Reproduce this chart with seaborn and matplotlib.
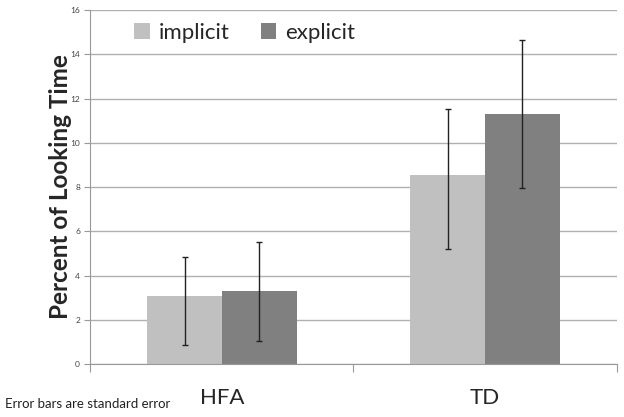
import matplotlib
matplotlib.use("Agg")
import matplotlib.pyplot as plt
import seaborn as sns
import pandas as pd
import numpy as np

groups = ["HFA", "TD"]
conditions = ["implicit", "explicit"]
implicit_vals = [3.09, 8.54]
explicit_vals = [3.29, 11.30]
# error bar ends
implicit_low = [0.85, 5.19]
implicit_high = [4.83, 11.54]
explicit_low = [1.04, 7.95]
explicit_high = [5.52, 14.64]
colors = ["#c0c0c0", "#808080"]

df = pd.DataFrame({
    "group": groups * 2,
    "condition": ["implicit"] * 2 + ["explicit"] * 2,
    "value": implicit_vals + explicit_vals,
})

sns.set_style("white")
plt.rcParams["font.family"] = ["Lato", "DejaVu Sans"]

fig = plt.figure(figsize=(6.24, 4.17), dpi=100)
ax = fig.add_axes([0.145, 0.127, 0.843, 0.849])

sns.barplot(data=df, x="group", y="value", hue="condition", order=groups,
            hue_order=conditions, palette=colors, width=0.57, errorbar=None,
            saturation=1, linewidth=0, ax=ax, zorder=2)

lows = [implicit_low, explicit_low]
highs = [implicit_high, explicit_high]
vals = [implicit_vals, explicit_vals]
for cont, lo, hi, v in zip(ax.containers, lows, highs, vals):
    xs = [b.get_x() + b.get_width() / 2 for b in cont]
    v = np.array(v)
    yerr = [v - np.array(lo), np.array(hi) - v]
    ax.errorbar(xs, v, yerr=yerr, fmt="none", ecolor="#222222", elinewidth=1,
                capsize=2.5, capthick=1, zorder=3)

ax.set_ylim(0, 16)
ax.set_xlim(-0.5, 1.5)
ax.set_yticks(np.arange(0, 17, 2))
ax.yaxis.grid(True, color="#b0b0b0", linewidth=1)
ax.set_axisbelow(True)
ax.tick_params(axis="y", labelsize=6, labelcolor="#444444", length=4,
               color="#999999", left=True, width=0.8)
ax.set_xticks([-0.5, 0.5, 1.5], minor=True)
ax.tick_params(axis="x", which="major", length=0, labelsize=16, pad=17)
ax.tick_params(axis="x", which="minor", length=6, color="#999999",
               bottom=True, width=0.8)
ax.set_xlabel("")
ax.set_ylabel("Percent of Looking Time", fontsize=17.5, fontweight="bold",
              labelpad=-1)
for s in ["top", "right"]:
    ax.spines[s].set_visible(False)
for s in ["left", "bottom"]:
    ax.spines[s].set_color("#999999")
    ax.spines[s].set_linewidth(0.8)

ax.legend(loc="upper left", bbox_to_anchor=(0.045, 1.02), ncol=2,
          frameon=False, fontsize=16, handlelength=0.7, handleheight=0.7,
          handletextpad=0.4, columnspacing=1.4)

fig.text(0.008, 0.022, "Error bars are standard error", fontsize=9.5,
         color="#222222")

fig.savefig("out.png", dpi=100)
